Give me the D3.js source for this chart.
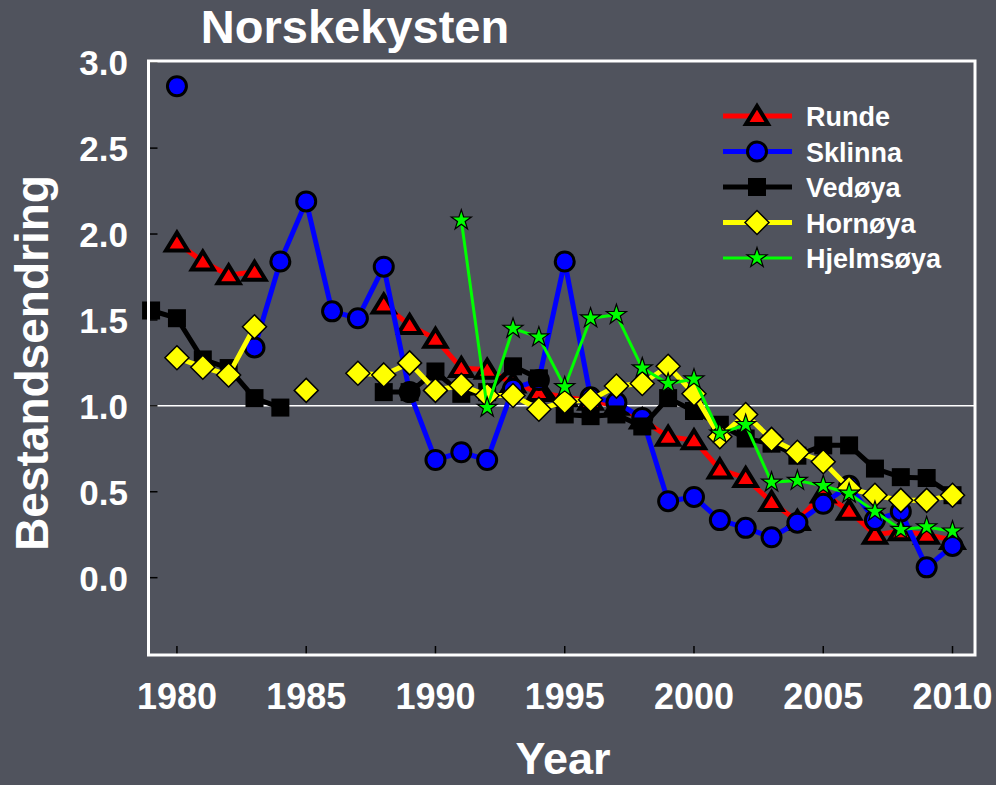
<!DOCTYPE html>
<html>
<head>
<meta charset="utf-8">
<script src="https://cdn.jsdelivr.net/npm/d3@7"></script>
<style>
  html, body { margin: 0; padding: 0; background: #50535d; }
  svg { display: block; font-family: "Liberation Sans", Arial, sans-serif; font-weight: bold; }
</style>
</head>
<body>
<svg width="996" height="785"></svg>
<script>
const years = [1979, 1980, 1981, 1982, 1983, 1984, 1985, 1986, 1987, 1988, 1989,
  1990, 1991, 1992, 1993, 1994, 1995, 1996, 1997, 1998, 1999,
  2000, 2001, 2002, 2003, 2004, 2005, 2006, 2007, 2008, 2009, 2010];

const runde = [null, 1.95, 1.84, 1.76, 1.78, null, null, null, null, 1.59, 1.47,
  1.39, 1.22, 1.21, 1.13, 1.08, 1.05, 1.03, 1.00, 0.92, 0.82,
  0.80, 0.63, 0.58, 0.44, 0.33, 0.49, 0.39, 0.25, 0.27, 0.25, 0.22];

const sklinna = [null, 2.86, null, null, 1.34, 1.84, 2.19, 1.55, 1.51, 1.81, 1.08,
  0.685, 0.73, 0.685, 1.10, 1.15, 1.84, 1.05, 1.02, 0.93, 0.445,
  0.47, 0.335, 0.29, 0.235, 0.32, 0.43, 0.535, 0.335, 0.385, 0.06, 0.185];

const vedoya = [1.555, 1.51, 1.27, 1.22, 1.045, 0.99, null, null, null, 1.08, 1.08,
  1.20, 1.07, 1.08, 1.23, 1.16, 0.95, 0.94, 0.95, 0.88, 1.045,
  0.97, 0.89, 0.81, 0.78, 0.71, 0.77, 0.77, 0.635, 0.585, 0.58, 0.48];

const hornoya = [null, 1.28, 1.225, 1.18, 1.46, null, 1.09, null, 1.19, 1.18, 1.25,
  1.09, 1.12, 1.06, 1.06, 0.98, 1.025, 1.035, 1.115, 1.13, 1.23,
  1.07, 0.82, 0.95, 0.805, 0.73, 0.675, 0.52, 0.48, 0.45, 0.45, 0.48];

const hjelmsoya = [null, null, null, null, null, null, null, null, null, null, null,
  null, 2.08, 0.99, 1.45, 1.40, 1.11, 1.51, 1.53, 1.22, 1.13,
  1.155, 0.84, 0.89, 0.555, 0.565, 0.535, 0.49, 0.385, 0.28, 0.295, 0.27];

const seriesNames = ["Runde", "Sklinna", "Vedøya", "Hornøya", "Hjelmsøya"];
const xTicks = [1980, 1985, 1990, 1995, 2000, 2005, 2010];
const yTicks = [0, 0.5, 1.0, 1.5, 2.0, 2.5, 3.0];

const svg = d3.select("svg");

const plot = { left: 148.5, top: 61, right: 975, bottom: 655 };

const x = d3.scaleLinear().domain([1978.9, 2010.87]).range([plot.left, plot.right]);
const y = d3.scaleLinear().domain([-0.45, 3.007]).range([plot.bottom, plot.top]);

// marker shapes
const triPath = "M0,-10L11,8L-11,8Z";
const diaPath = "M0,-12L12,0L0,12L-12,0Z";
const starPath = d3.symbol(d3.symbolStar, 125)();

const styles = [
  { data: runde, color: "#ff0000", width: 5,
    draw: g => g.append("path").attr("d", triPath).attr("fill", "#ff0000")
      .attr("stroke", "#000").attr("stroke-width", 4).attr("stroke-linejoin", "miter") },
  { data: sklinna, color: "#0000ff", width: 5,
    draw: g => g.append("circle").attr("r", 9.5).attr("fill", "#0000ff")
      .attr("stroke", "#000").attr("stroke-width", 3) },
  { data: vedoya, color: "#000000", width: 5,
    draw: g => g.append("rect").attr("x", -9).attr("y", -9).attr("width", 18).attr("height", 18)
      .attr("fill", "#000") },
  { data: hornoya, color: "#ffff00", width: 5,
    draw: g => g.append("path").attr("d", diaPath).attr("fill", "#ffff00")
      .attr("stroke", "#000").attr("stroke-width", 1.5) },
  { data: hjelmsoya, color: "#00ff00", width: 3,
    draw: g => g.append("path").attr("d", starPath).attr("fill", "#00ff00")
      .attr("stroke", "#000").attr("stroke-width", 1.2) }
];

// reference line at 1.0
svg.append("line")
  .attr("x1", plot.left).attr("x2", plot.right)
  .attr("y1", y(1)).attr("y2", y(1))
  .attr("stroke", "#ffffff").attr("stroke-width", 1.5);

// ticks (inward, black)
svg.append("g").selectAll("line").data(xTicks).enter().append("line")
  .attr("x1", d => x(d)).attr("x2", d => x(d))
  .attr("y1", plot.bottom).attr("y2", plot.bottom - 9)
  .attr("stroke", "#000").attr("stroke-width", 1.5);

svg.append("g").selectAll("line").data(yTicks).enter().append("line")
  .attr("x1", plot.left).attr("x2", plot.left + 9)
  .attr("y1", d => y(d)).attr("y2", d => y(d))
  .attr("stroke", "#000").attr("stroke-width", 1.5);

// series
const line = d3.line()
  .defined(d => d.v != null)
  .x(d => x(d.year))
  .y(d => y(d.v));

styles.forEach(s => {
  const pts = years.map((yr, i) => ({ year: yr, v: s.data[i] }));
  const g = svg.append("g");
  g.append("path")
    .datum(pts)
    .attr("d", line)
    .attr("fill", "none")
    .attr("stroke", s.color)
    .attr("stroke-width", s.width)
    .attr("stroke-linejoin", "round");
  g.selectAll("g.m")
    .data(pts.filter(d => d.v != null))
    .enter().append("g")
    .attr("class", "m")
    .attr("transform", d => `translate(${x(d.year)},${y(d.v)})`)
    .each(function() { s.draw(d3.select(this)); });
});

// frame
svg.append("rect")
  .attr("x", plot.left).attr("y", plot.top)
  .attr("width", plot.right - plot.left).attr("height", plot.bottom - plot.top)
  .attr("fill", "none").attr("stroke", "#ffffff").attr("stroke-width", 3);

// tick labels
svg.append("g").selectAll("text").data(xTicks).enter().append("text")
  .attr("x", d => x(d)).attr("y", 709)
  .attr("text-anchor", "middle")
  .attr("fill", "#fff").attr("font-size", 36)
  .text(d => d);

svg.append("g").selectAll("text").data(yTicks).enter().append("text")
  .attr("x", 128).attr("y", d => y(d) + 13)
  .attr("text-anchor", "end")
  .attr("fill", "#fff").attr("font-size", 35)
  .text(d => d3.format(".1f")(d));

// titles
svg.append("text")
  .attr("x", 355).attr("y", 43)
  .attr("text-anchor", "middle")
  .attr("fill", "#fff").attr("font-size", 47)
  .text("Norskekysten");

svg.append("text")
  .attr("x", 563).attr("y", 774)
  .attr("text-anchor", "middle")
  .attr("fill", "#fff").attr("font-size", 45)
  .text("Year");

svg.append("text")
  .attr("transform", "translate(48,363) rotate(-90)")
  .attr("text-anchor", "middle")
  .attr("fill", "#fff").attr("font-size", 46)
  .text("Bestandsendring");

// legend
const legend = svg.append("g").selectAll("g").data(styles).enter().append("g")
  .attr("transform", (d, i) => `translate(0,${116 + i * 35.5})`);

legend.append("line")
  .attr("x1", 723).attr("x2", 792)
  .attr("stroke", d => d.color)
  .attr("stroke-width", d => d.width);

legend.append("g")
  .attr("transform", "translate(757,0)")
  .each(function(d) { d.draw(d3.select(this)); });

legend.append("text")
  .attr("x", 806).attr("y", 10)
  .attr("fill", "#fff").attr("font-size", 27)
  .text((d, i) => seriesNames[i]);
</script>
</body>
</html>
